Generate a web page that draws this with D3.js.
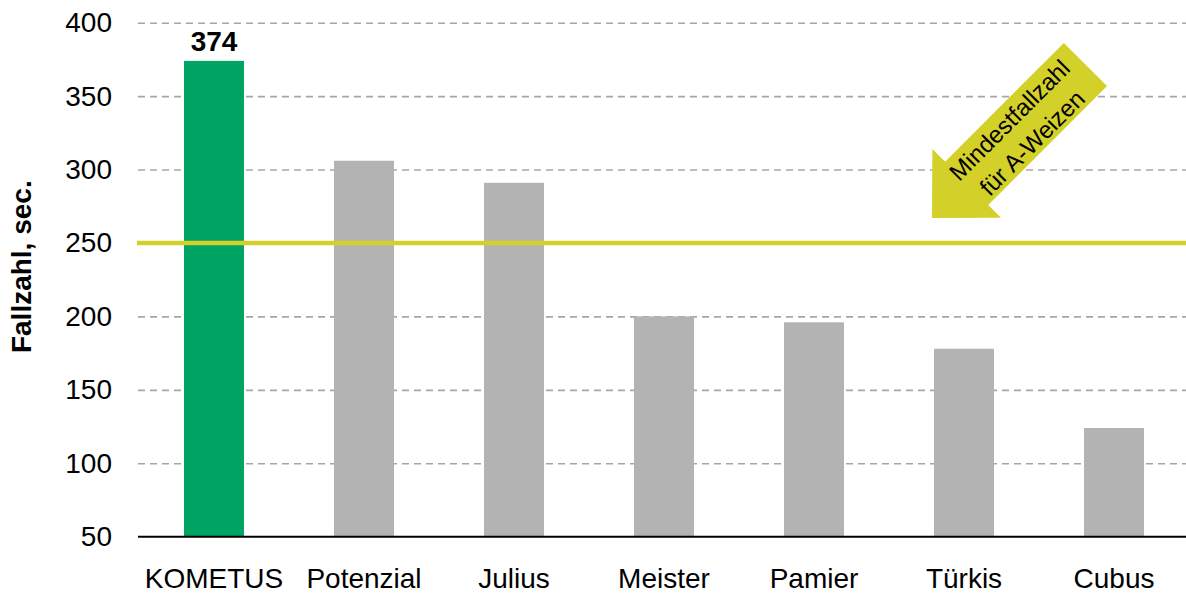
<!DOCTYPE html>
<html><head><meta charset="utf-8">
<script src="https://cdn.jsdelivr.net/npm/d3@7"></script>
<style>body{margin:0;background:#fff} svg{display:block;font-family:"Liberation Sans",Arial,sans-serif}</style>
</head><body><svg id="c" width="1186" height="597"></svg>
<script>
const categories = ["KOMETUS","Potenzial","Julius","Meister","Pamier","Türkis","Cubus"];
const values = [374,306,291,200,196,178,124];
const yTicks = [50,100,150,200,250,300,350,400];
const threshold = [250];
const highlightLabel = ["374"];
const yTitle = ["Fallzahl, sec."];
const arrowLines = ["Mindestfallzahl","für A-Weizen"];

const svg = d3.select("#c");
const x = d3.scaleBand().domain(categories).range([139,1189]).paddingInner(0.6).paddingOuter(0.3);
const y = d3.scaleLinear().domain([50,400]).range([536.7,22.7]);

// y axis with gridlines
const ya = svg.append("g").attr("transform","translate(138,0)")
  .call(d3.axisLeft(y).tickValues(yTicks).tickSize(-1048).tickPadding(26).tickFormat(d3.format("d")));
ya.select(".domain").remove();
ya.selectAll(".tick line").attr("stroke","#A6A6A6").attr("stroke-width",1.6).attr("stroke-dasharray","7,5")
  .filter(d=>d===50).remove();
ya.selectAll(".tick text").attr("font-size",28).attr("fill","#000").attr("font-family","Liberation Sans, Arial, sans-serif");

// bars
svg.append("g").selectAll("rect").data(values).join("rect")
  .attr("x",(d,i)=>x(categories[i]))
  .attr("width",x.bandwidth())
  .attr("y",d=>y(d))
  .attr("height",d=>y(50)-y(d))
  .attr("fill",(d,i)=>i===0?"#00A563":"#B3B3B3");

// value label
svg.append("text").attr("x",x(categories[0])+x.bandwidth()/2).attr("y",y(values[0])-10)
  .attr("text-anchor","middle").attr("font-size",28).attr("font-weight","bold").text(highlightLabel[0]);

// baseline
svg.append("line").attr("x1",138).attr("x2",1186).attr("y1",y(50)).attr("y2",y(50))
  .attr("stroke","#000").attr("stroke-width",2);

// x axis labels
const xa = svg.append("g").attr("transform",`translate(0,${y(50)})`)
  .call(d3.axisBottom(x).tickSize(0).tickPadding(31.7));
xa.select(".domain").remove();
xa.selectAll(".tick text").attr("font-size",28).attr("fill","#000").attr("font-family","Liberation Sans, Arial, sans-serif");

// threshold line
svg.append("line").attr("x1",137).attr("x2",1186).attr("y1",y(threshold[0])).attr("y2",y(threshold[0]))
  .attr("stroke","#D4D02A").attr("stroke-width",4.5);

// y title
svg.append("text").attr("transform","translate(30.5,266.7) rotate(-90)")
  .attr("text-anchor","middle").attr("font-size",28).attr("font-weight","bold").text(yTitle[0]);

// arrow annotation
const ag = svg.append("g").attr("transform","translate(932,218) rotate(-45)");
ag.append("path").attr("d","M0,0 L49,-48.5 L49,-30.5 L217,-30.5 L217,30.5 L49,30.5 L49,48.5 Z")
  .attr("fill","#D4D02A");
ag.selectAll("text.al").data(arrowLines).join("text").attr("class","al")
  .attr("x",124).attr("y",(d,i)=>i===0?-6:26)
  .attr("text-anchor","middle").attr("font-size",24).attr("fill","#000").text(d=>d);
</script></body></html>
